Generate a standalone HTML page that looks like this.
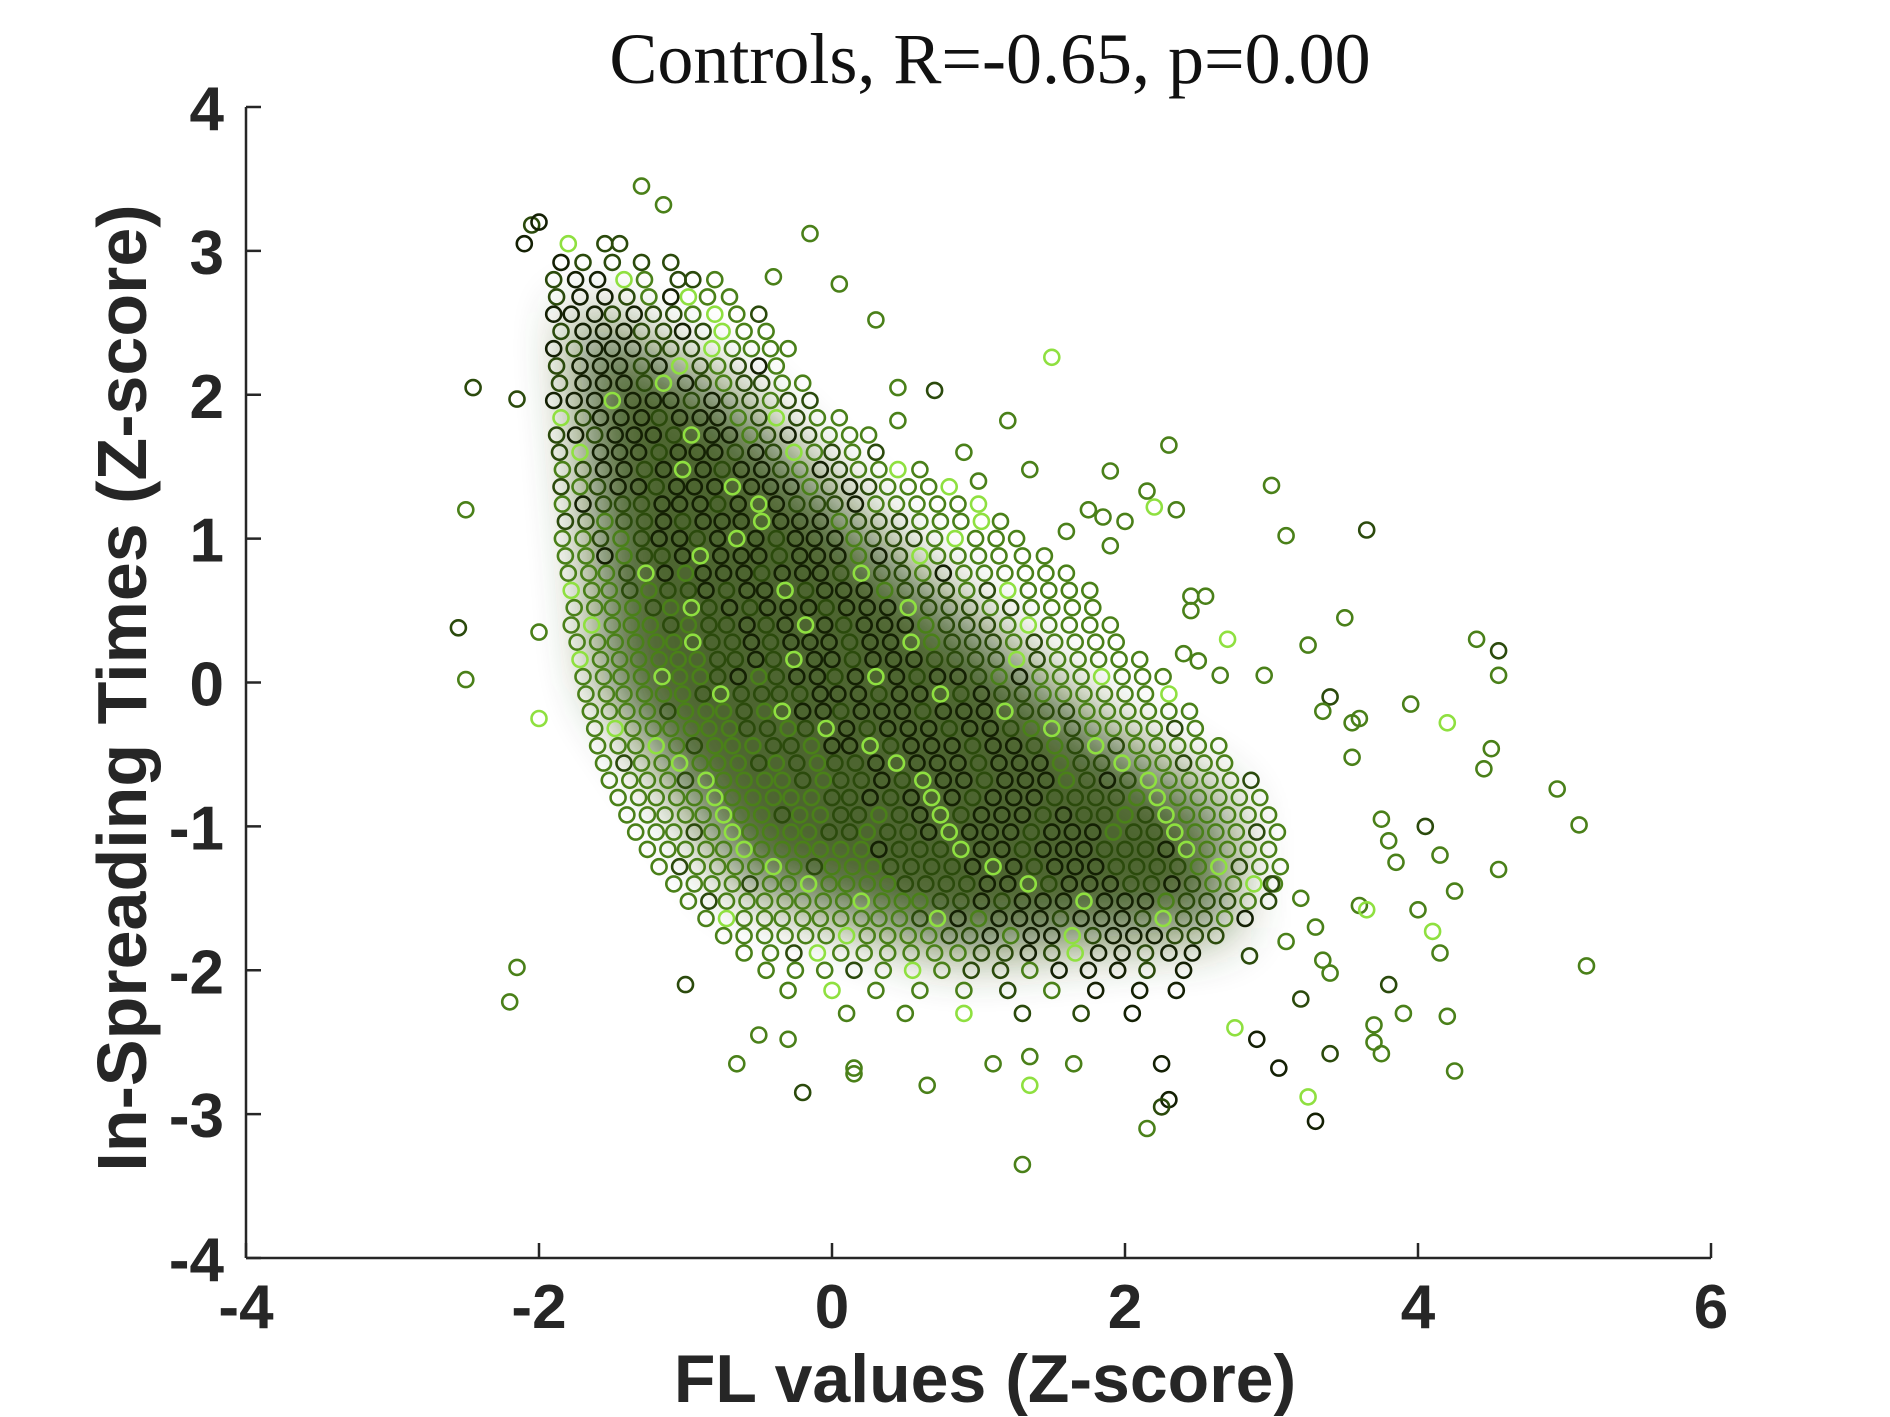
<!DOCTYPE html>
<html><head><meta charset="utf-8"><style>
html,body{margin:0;padding:0;background:#fff;}
svg{display:block;}
</style></head><body>
<svg id="chart" width="1890" height="1417" viewBox="0 0 1890 1417" xmlns="http://www.w3.org/2000/svg">
<rect width="1890" height="1417" fill="#fff"/>
<defs><filter id="blur" x="-50%" y="-50%" width="200%" height="200%"><feGaussianBlur stdDeviation="30"/></filter></defs>
<g id="underlay" filter="url(#blur)" opacity="0.85"></g>
<g id="points"></g>
<g id="axes"></g>
<text x="990" y="83" text-anchor="middle" font-family="Liberation Serif, serif" font-size="72" fill="#111">Controls, R=-0.65, p=0.00</text>
<text x="985" y="1402" text-anchor="middle" font-family="Liberation Sans, sans-serif" font-weight="bold" font-size="68" fill="#262626">FL values (Z-score)</text>
<text x="0" y="0" transform="translate(146,688) rotate(-90)" text-anchor="middle" font-family="Liberation Sans, sans-serif" font-weight="bold" font-size="70" fill="#262626">In-Spreading Times (Z-score)</text>
</svg>
<script>
const xTicks = [-4,-2,0,2,4,6];
const yTicks = [-4,-3,-2,-1,0,1,2,3,4];
const rowY = [3.05,2.92,2.8,2.68,2.56,2.44,2.32,2.2,2.08,1.96,1.84,1.72,1.6,1.48,1.36,1.24,1.12,1.0,0.88,0.76,0.64,0.52,0.4,0.28,0.16,0.04,-0.08,-0.2,-0.32,-0.44,-0.56,-0.68,-0.8,-0.92,-1.04,-1.16,-1.28,-1.4,-1.52,-1.64,-1.76,-1.88,-2.0,-2.14,-2.3];
const rowX = [
[-1.8,-1.55,-1.45],
[-1.85,-1.7,-1.5,-1.3,-1.1],
[-1.9,-1.75,-1.6,-1.42,-1.28,-1.05,-0.95,-0.8],
[-1.88,-1.72,-1.55,-1.4,-1.25,-1.1,-0.98,-0.85,-0.7],
[-1.9,-1.78,-1.62,-1.5,-1.35,-1.22,-1.08,-0.95,-0.8,-0.65,-0.5],
[-1.85,-1.7,-1.56,-1.42,-1.3,-1.15,-1.02,-0.88,-0.75,-0.6,-0.45],
[-1.9,-1.76,-1.62,-1.5,-1.36,-1.22,-1.1,-0.96,-0.82,-0.68,-0.55,-0.42,-0.3],
[-1.88,-1.72,-1.58,-1.45,-1.3,-1.18,-1.04,-0.9,-0.78,-0.64,-0.5,-0.38],
[-1.86,-1.7,-1.56,-1.42,-1.28,-1.15,-1.0,-0.88,-0.74,-0.6,-0.48,-0.34,-0.2],
[-1.9,-1.76,-1.62,-1.5,-1.36,-1.22,-1.1,-0.96,-0.82,-0.7,-0.56,-0.42,-0.3,-0.15],
[-1.85,-1.7,-1.58,-1.44,-1.3,-1.18,-1.04,-0.9,-0.78,-0.64,-0.5,-0.38,-0.24,-0.1,0.05],
[-1.88,-1.75,-1.62,-1.48,-1.35,-1.22,-1.08,-0.96,-0.82,-0.7,-0.56,-0.44,-0.3,-0.16,-0.02,0.12,0.25],
[-1.86,-1.72,-1.58,-1.45,-1.32,-1.18,-1.05,-0.92,-0.8,-0.66,-0.52,-0.4,-0.26,-0.12,0.0,0.14,0.3],
[-1.84,-1.7,-1.56,-1.42,-1.28,-1.15,-1.02,-0.88,-0.75,-0.62,-0.48,-0.35,-0.22,-0.08,0.05,0.18,0.32,0.45,0.6],
[-1.85,-1.72,-1.6,-1.46,-1.32,-1.2,-1.06,-0.94,-0.8,-0.68,-0.55,-0.42,-0.28,-0.15,-0.02,0.12,0.25,0.38,0.52,0.66,0.8],
[-1.84,-1.7,-1.56,-1.43,-1.3,-1.16,-1.04,-0.9,-0.78,-0.64,-0.5,-0.38,-0.24,-0.1,0.02,0.16,0.3,0.44,0.58,0.72,0.86,1.0],
[-1.82,-1.68,-1.55,-1.42,-1.28,-1.15,-1.02,-0.88,-0.75,-0.62,-0.48,-0.35,-0.22,-0.08,0.05,0.18,0.32,0.46,0.6,0.74,0.88,1.02,1.15],
[-1.84,-1.7,-1.58,-1.44,-1.3,-1.18,-1.04,-0.92,-0.78,-0.65,-0.52,-0.38,-0.25,-0.12,0.02,0.15,0.28,0.42,0.56,0.7,0.84,0.98,1.12,1.26],
[-1.82,-1.68,-1.55,-1.42,-1.28,-1.16,-1.02,-0.9,-0.76,-0.62,-0.5,-0.36,-0.22,-0.1,0.04,0.18,0.32,0.46,0.6,0.72,0.86,1.0,1.14,1.3,1.45],
[-1.8,-1.66,-1.54,-1.4,-1.27,-1.14,-1.0,-0.88,-0.74,-0.6,-0.48,-0.34,-0.2,-0.08,0.06,0.2,0.34,0.48,0.62,0.76,0.9,1.04,1.18,1.32,1.46,1.6],
[-1.78,-1.64,-1.52,-1.38,-1.25,-1.12,-0.98,-0.86,-0.72,-0.58,-0.46,-0.32,-0.18,-0.05,0.08,0.22,0.36,0.5,0.64,0.78,0.92,1.06,1.2,1.34,1.48,1.62,1.76],
[-1.76,-1.62,-1.5,-1.36,-1.22,-1.1,-0.96,-0.84,-0.7,-0.56,-0.44,-0.3,-0.16,-0.04,0.1,0.24,0.38,0.52,0.66,0.8,0.94,1.08,1.22,1.36,1.5,1.64,1.78],
[-1.78,-1.64,-1.5,-1.37,-1.24,-1.1,-0.98,-0.84,-0.72,-0.58,-0.45,-0.32,-0.18,-0.05,0.08,0.22,0.36,0.5,0.64,0.78,0.92,1.06,1.2,1.34,1.48,1.62,1.76,1.9],
[-1.74,-1.6,-1.48,-1.34,-1.2,-1.08,-0.95,-0.82,-0.68,-0.55,-0.42,-0.28,-0.15,-0.02,0.12,0.26,0.4,0.54,0.68,0.82,0.96,1.1,1.24,1.38,1.52,1.66,1.8,1.94],
[-1.72,-1.58,-1.45,-1.32,-1.18,-1.05,-0.92,-0.78,-0.66,-0.52,-0.4,-0.26,-0.12,0.0,0.14,0.28,0.42,0.56,0.7,0.84,0.98,1.12,1.26,1.4,1.54,1.68,1.82,1.96,2.1],
[-1.7,-1.56,-1.44,-1.3,-1.16,-1.04,-0.9,-0.78,-0.64,-0.5,-0.38,-0.24,-0.1,0.02,0.16,0.3,0.44,0.58,0.72,0.86,1.0,1.14,1.28,1.42,1.56,1.7,1.84,1.98,2.12,2.26],
[-1.68,-1.54,-1.42,-1.28,-1.15,-1.02,-0.88,-0.76,-0.62,-0.48,-0.36,-0.22,-0.08,0.04,0.18,0.32,0.46,0.6,0.74,0.88,1.02,1.16,1.3,1.44,1.58,1.72,1.86,2.0,2.14,2.3],
[-1.65,-1.52,-1.4,-1.26,-1.12,-1.0,-0.86,-0.74,-0.6,-0.46,-0.34,-0.2,-0.06,0.06,0.2,0.34,0.48,0.62,0.76,0.9,1.04,1.18,1.32,1.46,1.6,1.74,1.88,2.02,2.16,2.3,2.44],
[-1.62,-1.48,-1.36,-1.22,-1.1,-0.96,-0.84,-0.7,-0.58,-0.44,-0.3,-0.18,-0.04,0.1,0.24,0.38,0.52,0.66,0.8,0.94,1.08,1.22,1.36,1.5,1.64,1.78,1.92,2.06,2.2,2.34,2.48],
[-1.6,-1.46,-1.34,-1.2,-1.06,-0.94,-0.8,-0.68,-0.54,-0.4,-0.28,-0.14,0.0,0.12,0.26,0.4,0.54,0.68,0.82,0.96,1.1,1.24,1.38,1.52,1.66,1.8,1.94,2.08,2.22,2.36,2.5,2.64],
[-1.56,-1.42,-1.3,-1.16,-1.04,-0.9,-0.78,-0.64,-0.5,-0.38,-0.24,-0.1,0.02,0.16,0.3,0.44,0.58,0.72,0.86,1.0,1.14,1.28,1.42,1.56,1.7,1.84,1.98,2.12,2.26,2.4,2.54,2.68],
[-1.52,-1.38,-1.26,-1.12,-1.0,-0.86,-0.74,-0.6,-0.46,-0.34,-0.2,-0.06,0.06,0.2,0.34,0.48,0.62,0.76,0.9,1.04,1.18,1.32,1.46,1.6,1.74,1.88,2.02,2.16,2.3,2.44,2.58,2.72,2.86],
[-1.46,-1.32,-1.2,-1.06,-0.94,-0.8,-0.68,-0.54,-0.4,-0.28,-0.14,0.0,0.12,0.26,0.4,0.54,0.68,0.82,0.96,1.1,1.24,1.38,1.52,1.66,1.8,1.94,2.08,2.22,2.36,2.5,2.64,2.78,2.92],
[-1.4,-1.26,-1.14,-1.0,-0.88,-0.74,-0.62,-0.48,-0.34,-0.22,-0.08,0.06,0.18,0.32,0.46,0.6,0.74,0.88,1.02,1.16,1.3,1.44,1.58,1.72,1.86,2.0,2.14,2.28,2.42,2.56,2.7,2.84,2.98],
[-1.34,-1.2,-1.08,-0.94,-0.82,-0.68,-0.56,-0.42,-0.28,-0.16,-0.02,0.12,0.24,0.38,0.52,0.66,0.8,0.94,1.08,1.22,1.36,1.5,1.64,1.78,1.92,2.06,2.2,2.34,2.48,2.62,2.76,2.9,3.04],
[-1.26,-1.12,-1.0,-0.86,-0.74,-0.6,-0.48,-0.34,-0.2,-0.08,0.06,0.2,0.32,0.46,0.6,0.74,0.88,1.02,1.16,1.3,1.44,1.58,1.72,1.86,2.0,2.14,2.28,2.42,2.56,2.7,2.84,2.98],
[-1.18,-1.04,-0.92,-0.78,-0.66,-0.52,-0.4,-0.26,-0.12,0.0,0.14,0.28,0.4,0.54,0.68,0.82,0.96,1.1,1.24,1.38,1.52,1.66,1.8,1.94,2.08,2.22,2.36,2.5,2.64,2.78,2.92,3.06],
[-1.08,-0.94,-0.82,-0.68,-0.56,-0.42,-0.3,-0.16,-0.02,0.1,0.24,0.38,0.5,0.64,0.78,0.92,1.06,1.2,1.34,1.48,1.62,1.76,1.9,2.04,2.18,2.32,2.46,2.6,2.74,2.88,3.02],
[-0.98,-0.84,-0.72,-0.58,-0.46,-0.32,-0.2,-0.06,0.08,0.2,0.34,0.48,0.6,0.74,0.88,1.02,1.16,1.3,1.44,1.58,1.72,1.86,2.0,2.14,2.28,2.42,2.56,2.7,2.84,2.98],
[-0.86,-0.72,-0.6,-0.46,-0.34,-0.2,-0.08,0.06,0.2,0.32,0.46,0.6,0.72,0.86,1.0,1.14,1.28,1.42,1.56,1.7,1.84,1.98,2.12,2.26,2.4,2.54,2.68,2.82],
[-0.74,-0.6,-0.46,-0.32,-0.18,-0.04,0.1,0.24,0.38,0.52,0.66,0.8,0.94,1.08,1.22,1.36,1.5,1.64,1.78,1.92,2.06,2.2,2.34,2.48,2.62],
[-0.6,-0.42,-0.26,-0.1,0.06,0.22,0.38,0.54,0.7,0.86,1.02,1.18,1.34,1.5,1.66,1.82,1.98,2.14,2.3,2.46],
[-0.45,-0.25,-0.05,0.15,0.35,0.55,0.75,0.95,1.15,1.35,1.55,1.75,1.95,2.15,2.4],
[-0.3,0.0,0.3,0.6,0.9,1.2,1.5,1.8,2.1,2.35],
[0.1,0.5,0.9,1.3,1.7,2.05]
];
const outX = [-2.55,-2.5,-2.5,-2.45,-2.15,-2.15,-2.2,-2.0,-2.0,-2.1,-2.05,-2.0,-1.3,-1.15,-0.15,0.05,0.3,-0.4,1.5,1.2,0.45,0.7,0.45,2.3,1.9,1.35,3.0,3.1,3.65,2.2,2.35,2.15,2.0,1.85,4.4,4.55,4.55,3.5,3.25,3.95,4.2,4.5,4.45,4.95,5.1,4.55,5.15,4.25,4.15,4.05,4.0,4.1,4.15,4.2,4.25,3.9,3.8,3.7,3.75,3.7,3.4,3.3,3.25,3.05,3.2,3.35,3.4,2.9,2.3,2.25,2.15,2.25,1.3,1.35,0.65,0.15,0.15,-0.2,-0.3,-0.65,1.1,1.35,1.65,3.6,3.65,3.55,3.75,3.8,3.85,3.6,3.55,3.4,3.35,2.95,2.65,2.7,2.45,2.55,2.45,2.4,2.5,3.2,3.1,3.3,2.85,3.0,2.75,1.75,1.6,1.9,0.9,1.0,-1.0,-0.5];
const outY = [0.38,0.02,1.2,2.05,1.97,-1.98,-2.22,-0.25,0.35,3.05,3.18,3.2,3.45,3.32,3.12,2.77,2.52,2.82,2.26,1.82,2.05,2.03,1.82,1.65,1.47,1.48,1.37,1.02,1.06,1.22,1.2,1.33,1.12,1.15,0.3,0.22,0.05,0.45,0.26,-0.15,-0.28,-0.46,-0.6,-0.74,-0.99,-1.3,-1.97,-1.45,-1.2,-1.0,-1.58,-1.73,-1.88,-2.32,-2.7,-2.3,-2.1,-2.38,-2.58,-2.5,-2.58,-3.05,-2.88,-2.68,-2.2,-1.93,-2.02,-2.48,-2.9,-2.95,-3.1,-2.65,-3.35,-2.8,-2.8,-2.72,-2.68,-2.85,-2.48,-2.65,-2.65,-2.6,-2.65,-1.55,-1.58,-0.52,-0.95,-1.1,-1.25,-0.25,-0.28,-0.1,-0.2,0.05,0.05,0.3,0.6,0.6,0.5,0.2,0.15,-1.5,-1.8,-1.7,-1.9,-1.4,-2.4,1.2,1.05,0.95,1.6,1.4,-2.1,-2.45];

const X0 = 246, XS = 146.5, Y0 = 107, YS = 143.875;
function xScale(v){ return X0 + (v + 4) * XS; }
function yScale(v){ return Y0 + (4 - v) * YS; }
const NS = 'http://www.w3.org/2000/svg';
const palette = ['#142004','#2b4a0c','#4a8019','#8fe040'];
function shadeFor(x, y, i){
  const d = Math.abs(y - (0.35 - 1.15 * x));
  let s = d < 0.7 ? 0 : d < 1.3 ? 1 : 2;
  if (i % 11 === 0) s = 3;
  else if (i % 4 === 0) s = Math.min(2, s + 1);
  else if (i % 7 === 0) s = Math.max(0, s - 1);
  return palette[s];
}
const under = document.getElementById('underlay');
const band = document.createElementNS(NS, 'polygon');


band.setAttribute('points', [[-1.75,2.6],[-0.7,2.0],[0.5,0.8],[1.8,-0.3],[2.7,-0.9],[2.7,-1.7],[0.8,-1.85],[-0.6,-1.4],[-1.55,0.0]].map(p=>xScale(p[0])+','+yScale(p[1])).join(' '));
band.setAttribute('fill', '#2e4c10');
under.appendChild(band);

const pg = document.getElementById('points');
let idx = 0;
function addPt(x, y){
  const c = document.createElementNS(NS, 'circle');
  
  
  c.setAttribute('cx', xScale(x).toFixed(1));
  c.setAttribute('cy', yScale(y).toFixed(1));
  c.setAttribute('r', '7.5');
  c.setAttribute('fill', 'none');
  c.setAttribute('stroke', shadeFor(x, y, idx));
  c.setAttribute('stroke-width', '2.6');
  pg.appendChild(c);
  idx++;
}
rowY.forEach((y, r) => rowX[r].forEach(x => addPt(x, y)));
outX.forEach((x, i) => addPt(x, outY[i]));

const ax = document.getElementById('axes');
function line(x1,y1,x2,y2,name){
  const l = document.createElementNS(NS,'line');
  
  
  l.setAttribute('x1',x1); l.setAttribute('y1',y1); l.setAttribute('x2',x2); l.setAttribute('y2',y2);
  l.setAttribute('stroke','#262626'); l.setAttribute('stroke-width','2.5');
  ax.appendChild(l);
}
line(xScale(-4), yScale(-4), xScale(6), yScale(-4), 'x-axis-line');
line(xScale(-4), yScale(-4), xScale(-4), yScale(4), 'y-axis-line');
function label(x,y,txt,anchor,name){
  const t = document.createElementNS(NS,'text');
  
  
  t.setAttribute('x',x); t.setAttribute('y',y);
  t.setAttribute('text-anchor',anchor);
  t.setAttribute('font-family','Liberation Sans, sans-serif');
  t.setAttribute('font-weight','bold');
  t.setAttribute('font-size','62');
  t.setAttribute('fill','#262626');
  t.textContent = txt;
  ax.appendChild(t);
}
xTicks.forEach(v => {
  line(xScale(v), yScale(-4), xScale(v), yScale(-4) - 15, 'x-tick');
  label(xScale(v), 1328, String(v), 'middle', 'x-tick-label');
});
yTicks.forEach(v => {
  line(xScale(-4), yScale(v), xScale(-4) + 15, yScale(v), 'y-tick');
  label(224, yScale(v) + 23, String(v), 'end', 'y-tick-label');
});
</script>
</body></html>
